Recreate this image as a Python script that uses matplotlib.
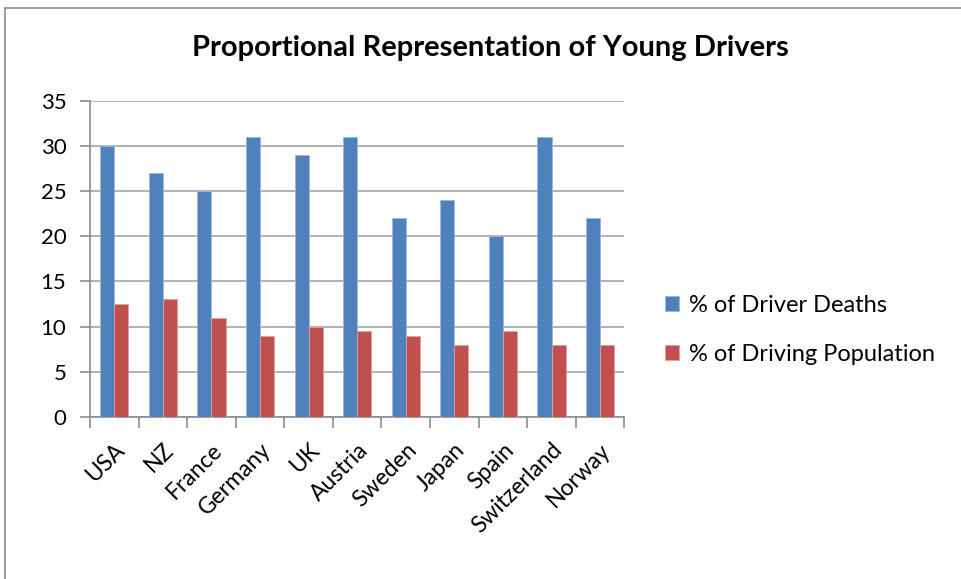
import matplotlib.pyplot as plt
import numpy as np
from matplotlib.patches import Rectangle

plt.rcParams['font.family'] = ['Lato', 'DejaVu Sans']

countries = ["USA", "NZ", "France", "Germany", "UK", "Austria", "Sweden",
             "Japan", "Spain", "Switzerland", "Norway"]
driver_deaths = [30, 27, 25, 31, 29, 31, 22, 24, 20, 31, 22]
driving_population = [12.5, 13, 11, 9, 10, 9.5, 9, 8, 9.5, 8, 8]

fig = plt.figure(figsize=(9.61, 5.79), dpi=100)
ax = fig.add_axes([0.0937, 0.280, 0.556, 0.546])

# outer chart border (Excel style)
fig.patches.append(Rectangle((5 / 961, -0.1), 1.2, (579 - 8) / 579 + 0.1,
                             transform=fig.transFigure, fill=False,
                             edgecolor="#8c8c8c", linewidth=1.2))

x = np.arange(len(countries))
w = 0.29
ax.bar(x - w / 2, driver_deaths, w, color="#4F81BD", edgecolor="#9DB9DE",
       linewidth=0.6, label="% of Driver Deaths", zorder=3)
ax.bar(x + w / 2, driving_population, w, color="#C0504D", edgecolor="#E0A09E",
       linewidth=0.6, label="% of Driving Population", zorder=3)

ax.set_xlim(-0.5, len(countries) - 0.5)
ax.set_ylim(0, 35)
ax.set_yticks(range(0, 36, 5))
ax.yaxis.grid(True, color="#a6a6a6", linewidth=1.2, zorder=0)

ax.set_xticks(x)
ax.set_xticklabels(countries, rotation=45, ha="right", rotation_mode="anchor",
                   fontsize=16.5)
ax.tick_params(axis="x", which="major", length=0, pad=16)
ax.set_xticks(np.arange(-0.5, len(countries)), minor=True)
ax.tick_params(axis="x", which="minor", length=8, color="#8c8c8c", width=1.2)
ax.tick_params(axis="y", length=7, color="#8c8c8c", width=1.2, labelsize=16,
               pad=10)

for s in ["top", "right"]:
    ax.spines[s].set_visible(False)
for s in ["left", "bottom"]:
    ax.spines[s].set_color("#8c8c8c")
    ax.spines[s].set_linewidth(1.2)

fig.suptitle("Proportional Representation of Young Drivers", x=0.51, y=0.94,
             fontsize=21, fontweight="bold")

fig.legend(loc="center left", bbox_to_anchor=(0.692, 0.43), frameon=False,
           fontsize=17, handlelength=0.6, handleheight=0.6, labelspacing=1.2,
           handletextpad=0.4, borderaxespad=0, borderpad=0)

fig.savefig("out.png", dpi=100)
